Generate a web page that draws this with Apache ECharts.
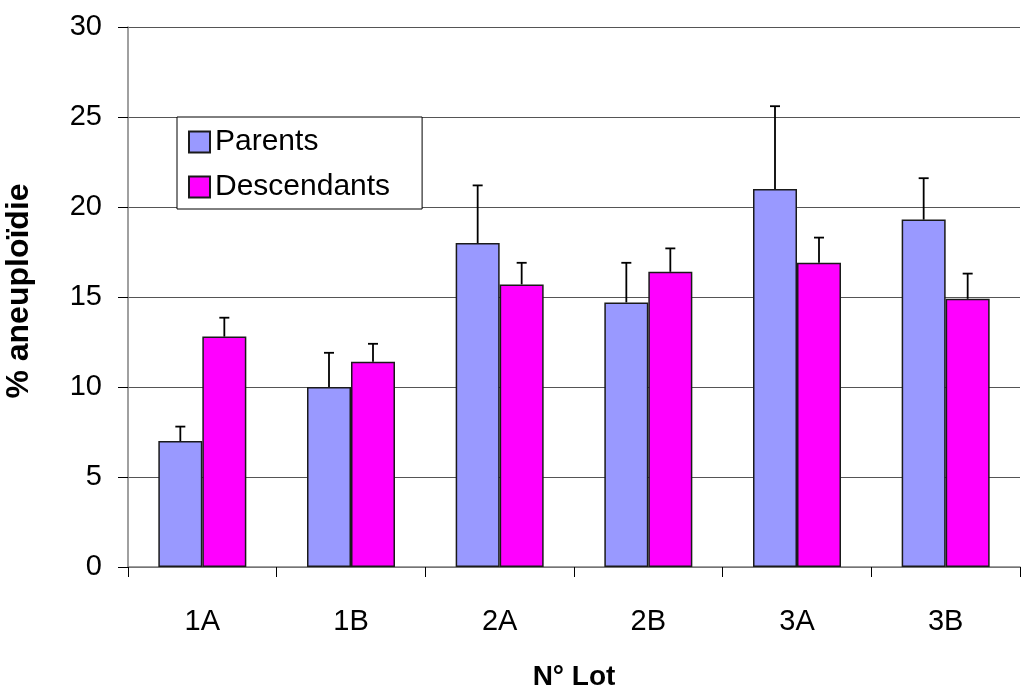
<!DOCTYPE html>
<html><head><meta charset="utf-8">
<script src="https://cdn.jsdelivr.net/npm/echarts@6/dist/echarts.min.js"></script>
<style>html,body{margin:0;padding:0;background:#fff}#c{width:1033px;height:693px}</style>
</head><body><div id="c"></div>
<script>
const categories = ['1A', '1B', '2A', '2B', '3A', '3B'];
const parents = [7.0, 10.0, 18.0, 14.7, 21.0, 19.3];
const parentsErr = [0.8, 1.9, 3.2, 2.2, 4.6, 2.3];
const descendants = [12.8, 11.4, 15.7, 16.4, 16.9, 14.9];
const descendantsErr = [1.05, 1.0, 1.2, 1.3, 1.4, 1.4];
const yTicks = [0, 5, 10, 15, 20, 25, 30];

const FONT = "'Liberation Sans', Arial, sans-serif";
const BAR_W = 44;
const CAP = 10;

function errRender(side) {
  return function (params, api) {
    const i = api.value(0);
    const v = api.value(1), e = api.value(2);
    const base = api.coord([i, v]);
    const top = api.coord([i, v + e]);
    const x = base[0] + side * BAR_W / 2;
    const st = { stroke: '#000', lineWidth: 1.8 };
    return {
      type: 'group', children: [
        { type: 'line', shape: { x1: x, y1: base[1], x2: x, y2: top[1] }, style: st },
        { type: 'line', shape: { x1: x - CAP / 2, y1: top[1], x2: x + CAP / 2, y2: top[1] }, style: st }
      ]
    };
  };
}

const chart = echarts.init(document.getElementById('c'), null, { renderer: 'canvas' });
chart.setOption({
  animation: false,
  backgroundColor: '#fff',
  textStyle: { fontFamily: FONT },
  grid: { left: 128, right: 13, top: 27, bottom: 126, containLabel: false, outerBoundsMode: 'none' },
  legend: {
    data: ['Parents', 'Descendants'],
    orient: 'vertical',
    left: 177, top: 117,
    padding: [10, 32, 7, 11],
    itemWidth: 21, itemHeight: 21, itemGap: 15,
    icon: 'rect',
    backgroundColor: '#fff',
    borderColor: '#000', borderWidth: 1, borderRadius: 0,
    textStyle: { fontSize: 30, color: '#000', fontFamily: FONT }
  },
  xAxis: {
    type: 'category',
    data: categories,
    name: 'N° Lot',
    nameLocation: 'middle',
    nameGap: 96,
    nameTextStyle: { fontSize: 28, fontWeight: 'bold', color: '#000', fontFamily: FONT },
    axisLine: { show: true, lineStyle: { color: '#808080', width: 1.5 } },
    axisTick: { show: true, alignWithLabel: false, interval: 0, length: 10, lineStyle: { color: '#000', width: 1 } },
    axisLabel: { fontSize: 29, color: '#000', margin: 40, interval: 0, fontFamily: FONT },
    splitLine: { show: false }
  },
  yAxis: {
    type: 'value',
    min: yTicks[0], max: yTicks[yTicks.length - 1], interval: 5,
    name: '% aneuploïdie',
    nameLocation: 'middle',
    nameGap: 93,
    nameRotate: 90,
    nameTextStyle: { fontSize: 32, fontWeight: 'bold', color: '#000', fontFamily: FONT, padding: [0, 0, 0, 12] },
    axisLine: { show: true, lineStyle: { color: '#808080', width: 1.5 } },
    axisTick: { show: true, inside: false, length: 10, lineStyle: { color: '#000', width: 1 } },
    axisLabel: { fontSize: 29, color: '#000', margin: 26, fontFamily: FONT },
    splitLine: { show: true, lineStyle: { color: '#555', width: 1.2 } }
  },
  series: [
    {
      name: 'Parents', type: 'bar', data: parents, barWidth: BAR_W, barGap: '0%',
      itemStyle: { color: '#9999FF', borderColor: '#1a1a1a', borderWidth: 1.5 }, z: 2
    },
    {
      name: 'Descendants', type: 'bar', data: descendants, barWidth: BAR_W, barGap: '0%',
      itemStyle: { color: '#FF00FF', borderColor: '#1a1a1a', borderWidth: 1.5 }, z: 2
    },
    {
      name: 'ParentsErr', type: 'custom', renderItem: errRender(-1),
      encode: { x: 0, y: [1, 2] }, z: 3,
      data: categories.map((c, i) => [i, parents[i], parentsErr[i]])
    },
    {
      name: 'DescendantsErr', type: 'custom', renderItem: errRender(1),
      encode: { x: 0, y: [1, 2] }, z: 3,
      data: categories.map((c, i) => [i, descendants[i], descendantsErr[i]])
    }
  ]
});
</script>
</body></html>
